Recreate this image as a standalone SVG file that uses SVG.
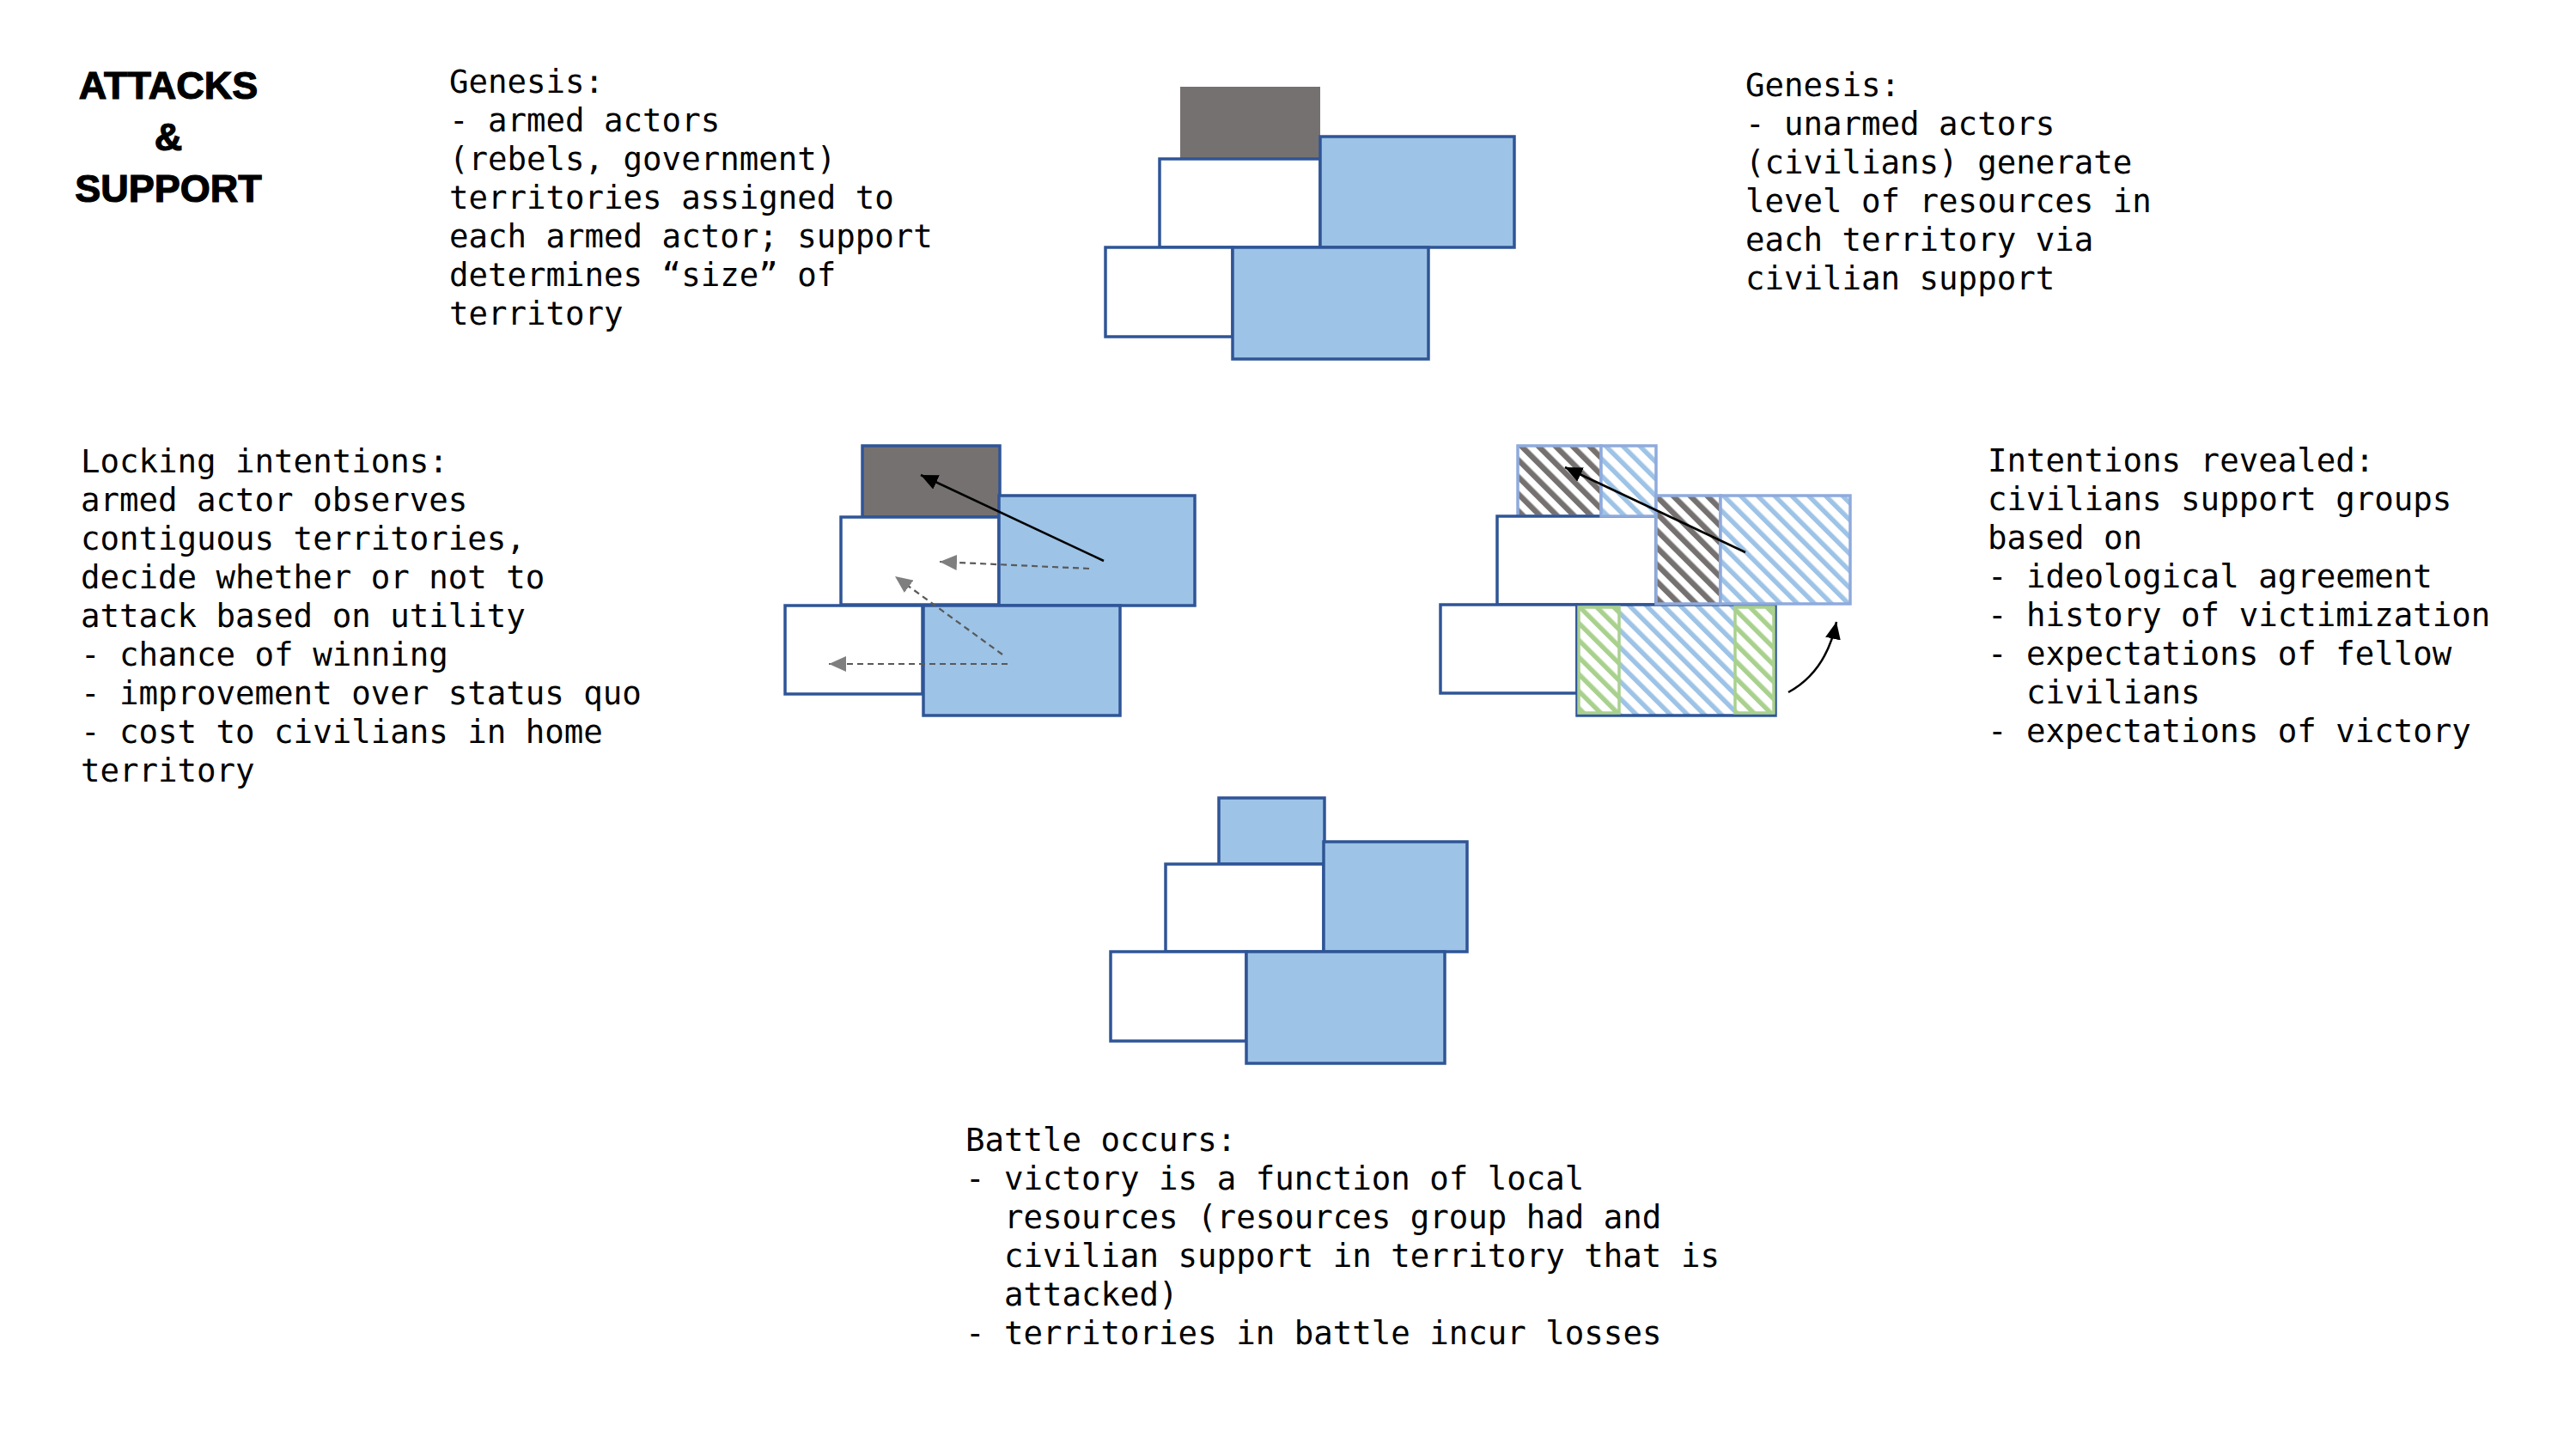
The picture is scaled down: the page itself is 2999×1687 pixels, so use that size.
<svg xmlns="http://www.w3.org/2000/svg" width="2999" height="1687" viewBox="0 0 2999 1687">
<style>
.t{font-family:"DejaVu Sans Mono","Liberation Mono",monospace;font-size:37.4px;fill:#000}
.title{font-family:"Liberation Sans","Noto Sans",sans-serif;font-weight:bold;font-size:45px;fill:#000;stroke:#000;stroke-width:1.2;text-anchor:middle}
.db{stroke:#2F5597;stroke-width:3.5}
.lb{stroke:#8FAADC;stroke-width:3.5}
.gr{stroke:#A9D18E;stroke-width:3.5}
.blue{fill:#9DC3E6}
.white{fill:#FFFFFF}
.gray{fill:#767171}
.arrow{stroke:#000;stroke-width:2.5;fill:none}
.dash{stroke:#595959;stroke-width:2.2;stroke-dasharray:7 5;fill:none}
</style>
<defs>
<marker id="ah" markerUnits="userSpaceOnUse" markerWidth="22" markerHeight="18" refX="20" refY="9" orient="auto"><path d="M0,0 L20,9 L0,18 z" fill="#000"/></marker>
<marker id="ahg" markerUnits="userSpaceOnUse" markerWidth="22" markerHeight="18" refX="20" refY="9" orient="auto"><path d="M0,0 L20,9 L0,18 z" fill="#7F7F7F"/></marker>
<pattern id="hGray" width="14" height="14" patternUnits="userSpaceOnUse" patternTransform="rotate(-45)"><rect width="14" height="14" fill="#fff"/><rect width="6.5" height="14" fill="#767171"/></pattern>
<pattern id="hBlue" width="14" height="14" patternUnits="userSpaceOnUse" patternTransform="rotate(-45)"><rect width="14" height="14" fill="#fff"/><rect width="5.5" height="14" fill="#9DC3E6"/></pattern>
<pattern id="hGreen" width="14" height="14" patternUnits="userSpaceOnUse" patternTransform="rotate(-45)"><rect width="14" height="14" fill="#fff"/><rect width="5.5" height="14" fill="#A9D18E"/></pattern>
</defs>
<rect width="2999" height="1687" fill="#fff"/>

<g id="title">
<text class="title" x="196" y="115">ATTACKS</text>
<text class="title" x="196" y="175">&amp;</text>
<text class="title" x="196" y="235">SUPPORT</text>
</g>

<g id="text-genesis-armed" class="t">
<text x="523" y="108">Genesis:</text>
<text x="523" y="153">- armed actors</text>
<text x="523" y="198">(rebels, government)</text>
<text x="523" y="243">territories assigned to</text>
<text x="523" y="288">each armed actor; support</text>
<text x="523" y="333">determines “size” of</text>
<text x="523" y="378">territory</text>
</g>

<g id="text-genesis-unarmed" class="t">
<text x="2032" y="112">Genesis:</text>
<text x="2032" y="157">- unarmed actors</text>
<text x="2032" y="202">(civilians) generate</text>
<text x="2032" y="247">level of resources in</text>
<text x="2032" y="292">each territory via</text>
<text x="2032" y="337">civilian support</text>
</g>

<g id="text-locking" class="t">
<text x="94" y="550">Locking intentions:</text>
<text x="94" y="595">armed actor observes</text>
<text x="94" y="640">contiguous territories,</text>
<text x="94" y="685">decide whether or not to</text>
<text x="94" y="730">attack based on utility</text>
<text x="94" y="775">- chance of winning</text>
<text x="94" y="820">- improvement over status quo</text>
<text x="94" y="865">- cost to civilians in home</text>
<text x="94" y="910">territory</text>
</g>

<g id="text-intentions" class="t">
<text x="2314" y="549">Intentions revealed:</text>
<text x="2314" y="594">civilians support groups</text>
<text x="2314" y="639">based on</text>
<text x="2314" y="684">- ideological agreement</text>
<text x="2314" y="729">- history of victimization</text>
<text x="2314" y="774">- expectations of fellow</text>
<text x="2359" y="819">civilians</text>
<text x="2314" y="864">- expectations of victory</text>
</g>

<g id="text-battle" class="t">
<text x="1124" y="1340">Battle occurs:</text>
<text x="1124" y="1385">- victory is a function of local</text>
<text x="1169" y="1430">resources (resources group had and</text>
<text x="1169" y="1475">civilian support in territory that is</text>
<text x="1169" y="1520">attacked)</text>
<text x="1124" y="1565">- territories in battle incur losses</text>
</g>

<g id="map-genesis">
<rect class="gray" x="1374" y="101" width="163" height="84"/>
<rect class="white db" x="1350" y="185" width="187" height="103"/>
<rect class="blue db" x="1537" y="159" width="226" height="129"/>
<rect class="white db" x="1287" y="288" width="148" height="104"/>
<rect class="blue db" x="1435" y="288" width="228" height="130"/>
</g>

<g id="map-locking">
<rect class="gray db" x="1004" y="519" width="160" height="83"/>
<rect class="white db" x="979" y="602" width="184" height="102"/>
<rect class="blue db" x="1163" y="577" width="228" height="128"/>
<rect class="white db" x="914" y="705" width="160" height="103"/>
<rect class="blue db" x="1075" y="705" width="229" height="128"/>
</g>

<g id="map-revealed">
<rect class="lb" x="1767" y="519" width="97" height="82" fill="url(#hGray)"/>
<rect class="white db" x="1743" y="601" width="185" height="103"/>
<rect class="lb" x="1864" y="519" width="64" height="82" fill="url(#hBlue)"/>
<rect class="white db" x="1677" y="704" width="159" height="103"/>
<rect class="db" x="1836" y="704" width="231" height="129" fill="url(#hBlue)"/>
<rect class="gr" x="1838" y="707" width="47" height="123" fill="url(#hGreen)"/>
<rect class="gr" x="2020" y="707" width="45" height="123" fill="url(#hGreen)"/>
<rect class="lb" x="1928" y="577" width="75" height="126" fill="url(#hGray)"/>
<rect class="lb" x="2003" y="577" width="151" height="126" fill="url(#hBlue)"/>
</g>

<g id="map-battle">
<rect class="blue db" x="1419" y="929" width="123" height="77"/>
<rect class="white db" x="1357" y="1006" width="184" height="102"/>
<rect class="blue db" x="1541" y="980" width="167" height="128"/>
<rect class="white db" x="1293" y="1108" width="158" height="104"/>
<rect class="blue db" x="1451" y="1108" width="231" height="130"/>
</g>

<g id="connectors">
<line class="arrow" x1="1285" y1="653" x2="1072" y2="553" marker-end="url(#ah)"/>
<line class="dash" x1="1268" y1="662" x2="1094" y2="654" marker-end="url(#ahg)"/>
<line class="dash" x1="1167" y1="762" x2="1042" y2="671" marker-end="url(#ahg)"/>
<line class="dash" x1="1173" y1="773" x2="965" y2="773" marker-end="url(#ahg)"/>
<line class="arrow" x1="2032" y1="643" x2="1822" y2="544" marker-end="url(#ah)"/>
<path class="arrow" d="M2082,806 Q2126,782 2138,724" marker-end="url(#ah)"/>
</g>
</svg>
